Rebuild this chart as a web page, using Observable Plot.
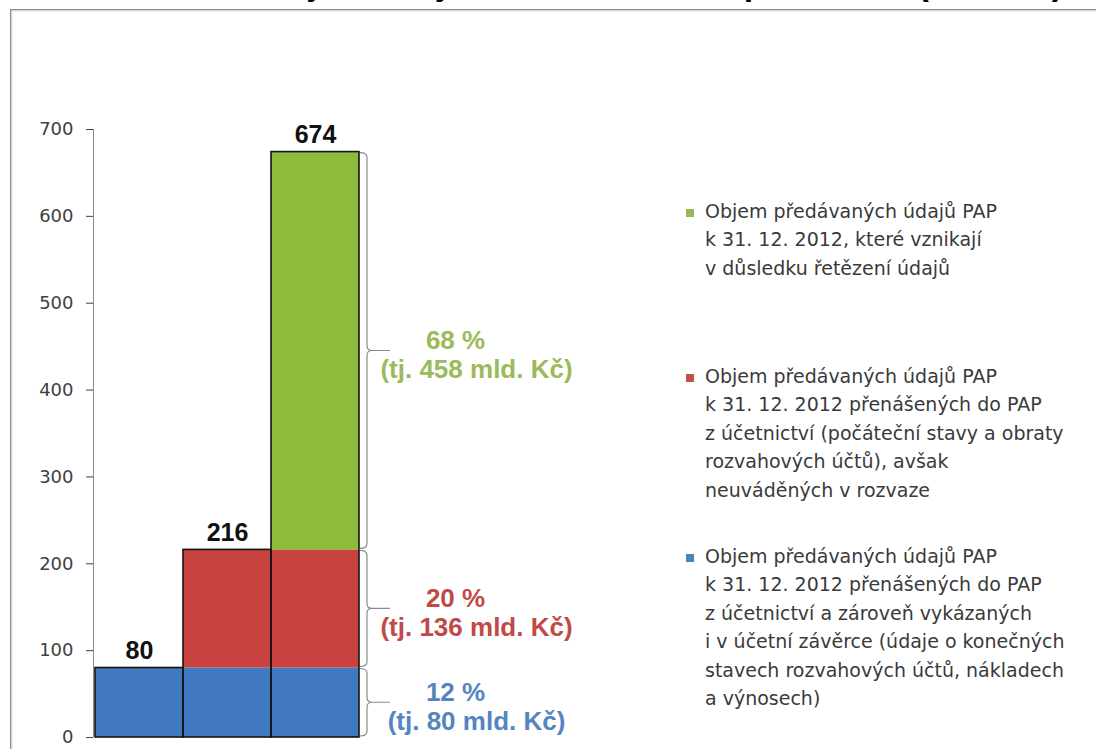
<!DOCTYPE html>
<html>
<head>
<meta charset="utf-8">
<script src="https://cdn.jsdelivr.net/npm/d3@7"></script>
<script src="https://cdn.jsdelivr.net/npm/@observablehq/plot@0.6"></script>
<style>
  html, body { margin: 0; padding: 0; background: #fff; overflow: hidden; }
  #wrap { position: relative; width: 1096px; height: 749px; overflow: hidden; background: #fff; }
  #chart { position: absolute; left: 0; top: 0; }
  #frame { position: absolute; left: 10px; top: 9px; width: 1300px; height: 1000px;
           border: 1px solid #8c8c8c; box-shadow: inset 1px 1px 0 #d6d6d6, inset 2px 2px 0 #efefef; pointer-events: none; }
  #title { position: absolute; right: 33px; top: -34px; font: bold 34px "Liberation Sans", Arial, sans-serif;
           line-height: 34px; white-space: nowrap; color: #000; }
  .legend { position: absolute; left: 705px; font: 19px "DejaVu Sans", sans-serif; line-height: 28.4px;
            color: #3a3a3a; white-space: nowrap; }
  .swatch { position: absolute; left: -19px; top: 12px; width: 8px; height: 8px; }
</style>
</head>
<body>
<div id="wrap">
  <div id="chart"></div>
  <div id="frame"></div>
  <div id="title">Objem údajů PAP v rozvaze – porovnání (mld. Kč)</div>
</div>
<script>
// ---- data ----
const columns = ["sloupec 1", "sloupec 2", "sloupec 3"];
const seriesNames = ["účetnictví a účetní závěrka", "účetnictví, mimo rozvahu", "řetězení údajů"];
const seriesColors = ["#4179c1", "#c8433f", "#8dbb3b"];
const labelColors = ["#5485c0", "#c04a47", "#9cba5a"];
const blueValues = [80, 80, 80];
const redValues = [0, 136, 136];
const greenValues = [0, 0, 458];
const columnTotals = [80, 216, 674];
const yTicks = [0, 100, 200, 300, 400, 500, 600, 700];
const shareLabels = ["12 %", "20 %", "68 %"];
const amountLabels = ["(tj. 80 mld. Kč)", "(tj. 136 mld. Kč)", "(tj. 458 mld. Kč)"];
const legendGreen = ["Objem předávaných údajů PAP", "k 31. 12. 2012, které vznikají", "v důsledku řetězení údajů"];
const legendRed = ["Objem předávaných údajů PAP", "k 31. 12. 2012 přenášených do PAP", "z účetnictví (počáteční stavy a obraty", "rozvahových účtů), avšak", "neuváděných v rozvaze"];
const legendBlue = ["Objem předávaných údajů PAP", "k 31. 12. 2012 přenášených do PAP", "z účetnictví a zároveň vykázaných", "i v účetní závěrce (údaje o konečných", "stavech rozvahových účtů, nákladech", "a výnosech)"];

// ---- derived tables ----
const seriesValues = [blueValues, redValues, greenValues];
const segments = [];
columns.forEach((c, i) => {
  let base = 0;
  seriesValues.forEach((vals, s) => {
    const v = vals[i];
    if (v > 0) segments.push({x1: i, x2: i + 1, y1: base, y2: base + v, fill: seriesColors[s]});
    base += v;
  });
});
const last = columns.length - 1;
const braceData = [];
{
  let base = 0;
  seriesValues.forEach((vals, s) => {
    const v = vals[last];
    braceData.push({y1: base, y2: base + v, mid: base + v / 2, share: shareLabels[s], amount: amountLabels[s], color: labelColors[s]});
    base += v;
  });
}
const outlines = columns.map((c, i) => ({x1: i, x2: i + 1, y1: 0, y2: columnTotals[i]}));

function braceMark(...args) {
  const scales = args.find(a => a && typeof a.x === "function" && typeof a.y === "function");
  const g = d3.create("svg:g").attr("fill", "none").attr("stroke", "#8a8a8a").attr("stroke-width", 1.2);
  const xr = scales.x(columns.length);
  for (const b of braceData) {
    const top = scales.y(b.y2) + 1, bot = scales.y(b.y1) - 1, mid = scales.y(b.mid);
    const x0 = xr + 1, x1 = xr + 8, x2 = xr + 13, x3 = xr + 31, r = 5;
    const p = d3.path();
    p.moveTo(x0, top); p.quadraticCurveTo(x1, top, x1, top + r);
    p.lineTo(x1, mid - r); p.quadraticCurveTo(x1, mid, x2, mid);
    p.lineTo(x3, mid);
    p.moveTo(x2, mid); p.quadraticCurveTo(x1, mid, x1, mid + r);
    p.lineTo(x1, bot - r); p.quadraticCurveTo(x1, bot, x0, bot);
    g.append("path").attr("d", p.toString());
  }
  return g.node();
}

const chart = Plot.plot({
  width: 1096,
  height: 749,
  marginLeft: 93,
  marginRight: 737,
  marginTop: 129,
  marginBottom: 12,
  style: {background: "transparent", fontFamily: "DejaVu Sans, sans-serif", fontSize: "18px", color: "#404040"},
  x: {domain: [0, columns.length], range: [95, 359], axis: null},
  y: {domain: [0, 700], ticks: yTicks, tickSize: 7, tickPadding: 13, label: null, grid: false},
  color: {type: "identity"},
  marks: [
    Plot.ruleX([0], {x: d => d, y1: 0, y2: 700, dx: -2, stroke: "#8a8a8a"}),
    Plot.rect(segments, {x1: "x1", x2: "x2", y1: "y1", y2: "y2", fill: "fill"}),
    Plot.rect(outlines, {x1: "x1", x2: "x2", y1: "y1", y2: "y2", fill: "none", stroke: "#141414", strokeWidth: 1.6}),
    Plot.text(columns, {x: (d, i) => i + 0.5, y: (d, i) => columnTotals[i], text: (d, i) => String(columnTotals[i]),
      dy: -9, lineAnchor: "bottom", fontSize: 25, fontWeight: "bold", fontFamily: "Liberation Sans, Arial, sans-serif", fill: "#111"}),
    braceMark,
    Plot.text(braceData, {x: () => columns.length, y: "mid", text: "share", fill: "color", dx: 96, dy: -10,
      fontSize: 26, fontWeight: "bold", fontFamily: "Liberation Sans, Arial, sans-serif"}),
    Plot.text(braceData, {x: () => columns.length, y: "mid", text: "amount", fill: "color", dx: 117, dy: 19,
      fontSize: 26, fontWeight: "bold", fontFamily: "Liberation Sans, Arial, sans-serif"})
  ]
});
document.getElementById("chart").appendChild(chart);

// ---- legend (HTML) ----
const wrap = document.getElementById("wrap");
[[legendGreen, "#97b955", 197], [legendRed, "#c0504d", 362], [legendBlue, "#4f81bd", 542]]
  .forEach(([lines, swatchColor, top]) => {
    const div = document.createElement("div");
    div.className = "legend";
    div.style.top = top + "px";
    const sw = document.createElement("div");
    sw.className = "swatch";
    sw.style.background = swatchColor;
    div.appendChild(sw);
    lines.forEach((t, k) => {
      if (k) div.appendChild(document.createElement("br"));
      div.appendChild(document.createTextNode(t));
    });
    wrap.appendChild(div);
  });
</script>
</body>
</html>
